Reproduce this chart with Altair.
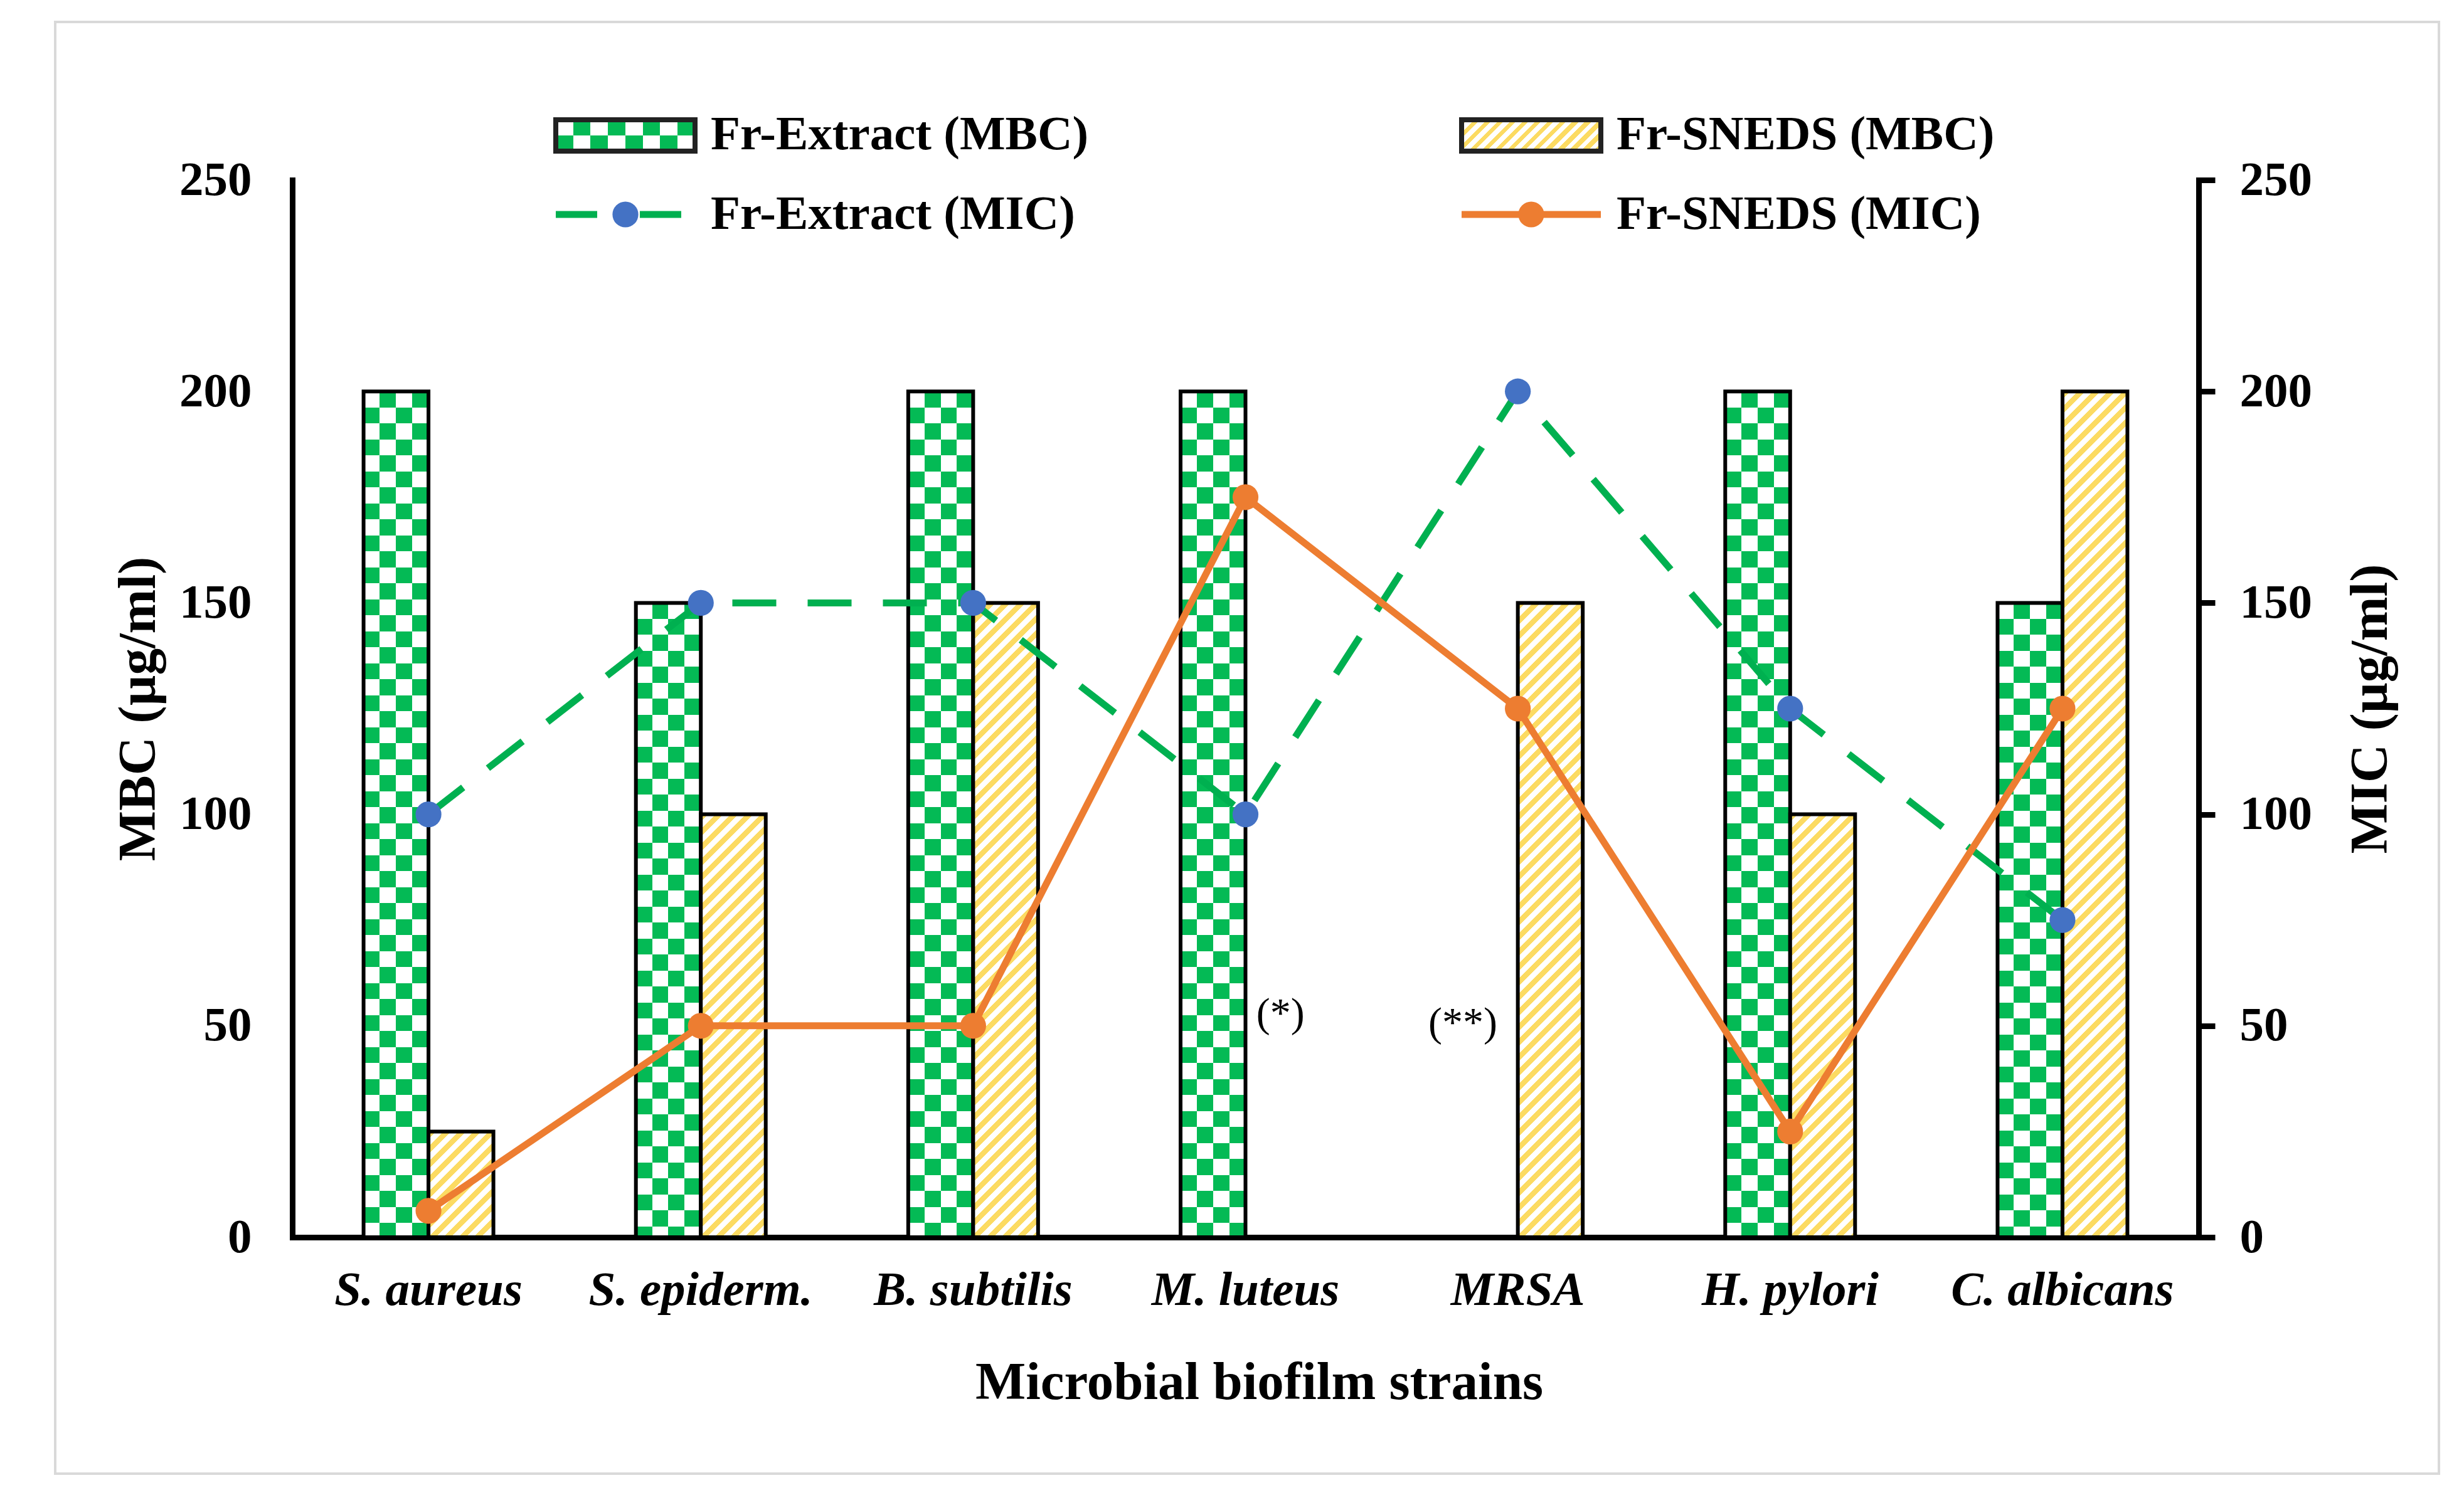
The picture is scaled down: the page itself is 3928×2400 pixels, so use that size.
import math
import altair as alt

# ---------------- data ----------------
strains = ["S. aureus", "S. epiderm.", "B. subtilis", "M. luteus", "MRSA", "H. pylori", "C. albicans"]
series = ["Fr-Extract", "Fr-SNEDS"]
extract_mbc = [200, 150, 200, 200, None, 200, 150]
sneds_mbc = [25, 100, 150, None, 150, 100, 200]
extract_mic = [100, 150, 150, 100, 200, 125, 75]
sneds_mic = [6.25, 50, 50, 175, 125, 25, 125]
legend_labels = ["Fr-Extract (MBC)", "Fr-SNEDS (MBC)", "Fr-Extract (MIC)", "Fr-SNEDS (MIC)"]
y_ticks = [0, 50, 100, 150, 200, 250]
note_strains = ["M. luteus", "MRSA"]
note_series = ["Fr-SNEDS", "Fr-Extract"]
note_text = ["(*)", "(**)"]
note_y = [52.8, 50.6]

# ---------------- style ----------------
FONT = "Liberation Serif"
W, H = 3039, 1686
YMAX = 250
PX = H / YMAX
STEP = W / len(strains)
BAR_W = 103.5
# empty slots either side of the two bars inside each category band
OFFSET_DOMAIN = ["_gap_left"] + series + ["_gap_right"]
PO = (STEP / BAR_W - 4) / 2
GREEN = "#04BA55"
LINE_GREEN = "#00B050"
YELLOW = "#FCDB62"
BLUE = "#4472C4"
ORANGE = "#ED7D31"
PT_SIZE = 1700


def seg_stops(segs):
    stops = []
    for a, b, c in segs:
        a = round(min(max(a, 0.0), 1.0), 5)
        b = round(min(max(b, 0.0), 1.0), 5)
        if b <= a:
            continue
        stops.append({"offset": a, "color": c})
        stops.append({"offset": b, "color": c})
    return stops


def lin(x2, y2, segs):
    return {"gradient": "linear", "x1": 0, "y1": 0, "x2": x2, "y2": y2, "stops": seg_stops(segs)}


def columns(n):
    return lin(1, 0, [(i / n, (i + 1) / n, "white" if i % 2 == 0 else "black") for i in range(n)])


def rows(h, cell):
    n = math.ceil(h / cell)
    return lin(0, 1, [(k * cell / h, (k + 1) * cell / h, "black" if k % 2 == 0 else "white") for k in range(n)])


def diag(w, h, period=24.0, duty=0.5):
    r = h / w
    a = (w + h) / (w * (1 + r * r))
    L = w + h
    segs = []
    s = 0.0
    while s < L:
        segs.append((s / L, (s + duty * period) / L, YELLOW))
        segs.append(((s + duty * period) / L, (s + period) / L, "white"))
        s += period
    return lin(a, a * r, segs)


ext_bars = [{"strain": s, "series": series[0], "value": v, "rows": rows(v * PX, 25.5)}
            for s, v in zip(strains, extract_mbc) if v is not None]
sn_bars = [{"strain": s, "series": series[1], "value": v, "stripes": diag(BAR_W, v * PX)}
           for s, v in zip(strains, sneds_mbc) if v is not None]
ext_mic_rows = [{"strain": s, "mic": v} for s, v in zip(strains, extract_mic)]
sn_mic_rows = [{"strain": s, "mic": v} for s, v in zip(strains, sneds_mic)]

# ---------------- encodings ----------------
x_axis = alt.Axis(
    title="Microbial biofilm strains", labelAngle=0, ticks=False, tickSize=0, grid=False,
    domainColor="black", domainWidth=9, domainCap="square",
    labelFont=FONT, labelFontSize=77, labelFontWeight="bold", labelFontStyle="italic",
    labelColor="black", labelBaseline="middle", labelPadding=84, labelLimit=1000, labelOverlap=False,
    titleFont=FONT, titleFontSize=85, titleFontWeight="bold", titleColor="black",
    titleX=1541, titleY=231, titleBaseline="middle", titleAlign="center",
)
X = alt.X("strain:N", sort=strains, scale=alt.Scale(domain=strains, paddingInner=0, paddingOuter=0), axis=x_axis)
XO = alt.XOffset("series:N", scale=alt.Scale(domain=OFFSET_DOMAIN, paddingInner=0, paddingOuter=PO))

left_axis = alt.Axis(
    title="MBC (µg/ml)", values=y_ticks, orient="left", ticks=False, tickSize=0, grid=False,
    domainColor="black", domainWidth=9, domainCap="square",
    labelFont=FONT, labelFontSize=77, labelFontWeight="bold", labelColor="black",
    labelPadding=65, labelLimit=1000,
    titleFont=FONT, titleFontSize=85, titleFontWeight="bold", titleColor="black",
    titleAngle=270, titleX=-246, titleY=H / 2, titleBaseline="middle", titleAlign="center",
)
right_axis = alt.Axis(
    title="MIC (µg/ml)", values=y_ticks, orient="right", ticks=True, tickSize=26, tickWidth=9,
    tickColor="black", grid=False,
    domainColor="black", domainWidth=9, domainCap="square",
    labelFont=FONT, labelFontSize=77, labelFontWeight="bold", labelColor="black",
    labelPadding=39, labelLimit=1000,
    titleFont=FONT, titleFontSize=85, titleFontWeight="bold", titleColor="black",
    titleAngle=270, titleX=273, titleY=H / 2, titleBaseline="middle", titleAlign="center",
)
YB = alt.Y("value:Q", stack=None, scale=alt.Scale(domain=[0, YMAX], nice=False), axis=left_axis)
YL = alt.Y("mic:Q", scale=alt.Scale(domain=[0, YMAX], nice=False), axis=right_axis)

# ---------------- bars ----------------
ext_data = alt.Data(values=ext_bars)
barA = alt.Chart(ext_data).mark_bar(fill=columns(4)).encode(x=X, xOffset=XO, y=YB)
barB = alt.Chart(ext_data).mark_bar(blend="difference").encode(
    x=X, xOffset=XO, y=YB, fill=alt.Fill("rows:N", scale=None))
barC = alt.Chart(ext_data).mark_bar(fill=GREEN, blend="screen").encode(x=X, xOffset=XO, y=YB)
barD = alt.Chart(ext_data).mark_bar(fillOpacity=0, stroke="black", strokeWidth=6).encode(x=X, xOffset=XO, y=YB)
barY = alt.Chart(alt.Data(values=sn_bars)).mark_bar(stroke="black", strokeWidth=6).encode(
    x=X, xOffset=XO, y=YB, fill=alt.Fill("stripes:N", scale=None))

note_layers = []
for s, se, t, yv, dx in zip(note_strains, note_series, note_text, note_y, [4, -36]):
    note_layers.append(
        alt.Chart(alt.Data(values=[{"strain": s, "series": se, "value": yv, "label": t}]))
        .mark_text(font=FONT, fontSize=66, color="black", baseline="middle", align="center", dx=dx)
        .encode(x=X, xOffset=XO, y=YB, text="label:N")
    )

bars_group = alt.layer(barA, barB, barC, barD, barY, *note_layers)

# ---------------- lines ----------------
gline = alt.Chart(alt.Data(values=ext_mic_rows)).mark_line(
    color=LINE_GREEN, strokeWidth=11, strokeDash=[70, 50]).encode(x=X, y=YL)
gpts = alt.Chart(alt.Data(values=ext_mic_rows)).mark_point(
    filled=True, color=BLUE, size=PT_SIZE, opacity=1).encode(x=X, y=YL)
oline = alt.Chart(alt.Data(values=sn_mic_rows)).mark_line(
    color=ORANGE, strokeWidth=11).encode(x=X, y=YL)
opts = alt.Chart(alt.Data(values=sn_mic_rows)).mark_point(
    filled=True, color=ORANGE, size=PT_SIZE, opacity=1).encode(x=X, y=YL)
lines_group = alt.layer(gline, gpts, oline, opts)

# ---------------- frame & legend ----------------
one = alt.Data(values=[{"k": 0}])


def rect_layer(x0, x1, y0, y1, **mk):
    return alt.Chart(one).mark_rect(**mk).encode(
        x=alt.value(x0), x2=alt.value(x1), y=alt.value(y0), y2=alt.value(y1))


frame = rect_layer(-378, 3422, -252, 2063, fillOpacity=0, stroke="#D9D9D9", strokeWidth=4)

C1X0, C1X1, C2X0, C2X1 = 420, 642, 1864, 2086
R1Y0, R1Y1 = -96, -46
ROW1, ROW2 = -72, 55
TX1, TX2 = 667, 2111

legend_layers = [
    rect_layer(C1X0, C1X1, R1Y0, R1Y1, fill=columns(8)),
    rect_layer(C1X0, C1X1, R1Y0, R1Y1, fill=lin(0, 1, [(0, 0.5, "black"), (0.5, 1, "white")]), blend="difference"),
    rect_layer(C1X0, C1X1, R1Y0, R1Y1, fill=GREEN, blend="screen"),
    rect_layer(C1X0, C1X1, R1Y0, R1Y1, fillOpacity=0, stroke="#222222", strokeWidth=8),
    rect_layer(C2X0, C2X1, R1Y0, R1Y1, fill=diag(C2X1 - C2X0, R1Y1 - R1Y0, 20.0), stroke="#222222", strokeWidth=8),
    alt.Chart(one).mark_rule(color=LINE_GREEN, strokeWidth=11, strokeDash=[66, 68]).encode(
        x=alt.value(C1X0), x2=alt.value(C1X1), y=alt.value(ROW2)),
    alt.Chart(one).mark_point(filled=True, color=BLUE, size=PT_SIZE, opacity=1).encode(
        x=alt.value((C1X0 + C1X1) / 2), y=alt.value(ROW2)),
    alt.Chart(one).mark_rule(color=ORANGE, strokeWidth=11).encode(
        x=alt.value(C2X0), x2=alt.value(C2X1), y=alt.value(ROW2)),
    alt.Chart(one).mark_point(filled=True, color=ORANGE, size=PT_SIZE, opacity=1).encode(
        x=alt.value((C2X0 + C2X1) / 2), y=alt.value(ROW2)),
]
for lab, tx, ty in zip(legend_labels, [TX1, TX2, TX1, TX2], [ROW1, ROW1, ROW2, ROW2]):
    legend_layers.append(
        alt.Chart(one).mark_text(text=lab, align="left", baseline="middle", font=FONT,
                                 fontSize=77, fontWeight="bold", color="black")
        .encode(x=alt.value(tx), y=alt.value(ty))
    )

chart = (
    alt.layer(frame, bars_group, lines_group, *legend_layers)
    .resolve_scale(y="independent")
    .properties(
        width=W, height=H,
        padding={"left": 458, "top": 279, "right": 411, "bottom": 411},
        autosize=alt.AutoSizeParams(type="none"),
        background="white",
    )
    .configure_view(strokeWidth=0)
)

chart.save("out.html", embed_options={"renderer": "svg", "actions": False})
